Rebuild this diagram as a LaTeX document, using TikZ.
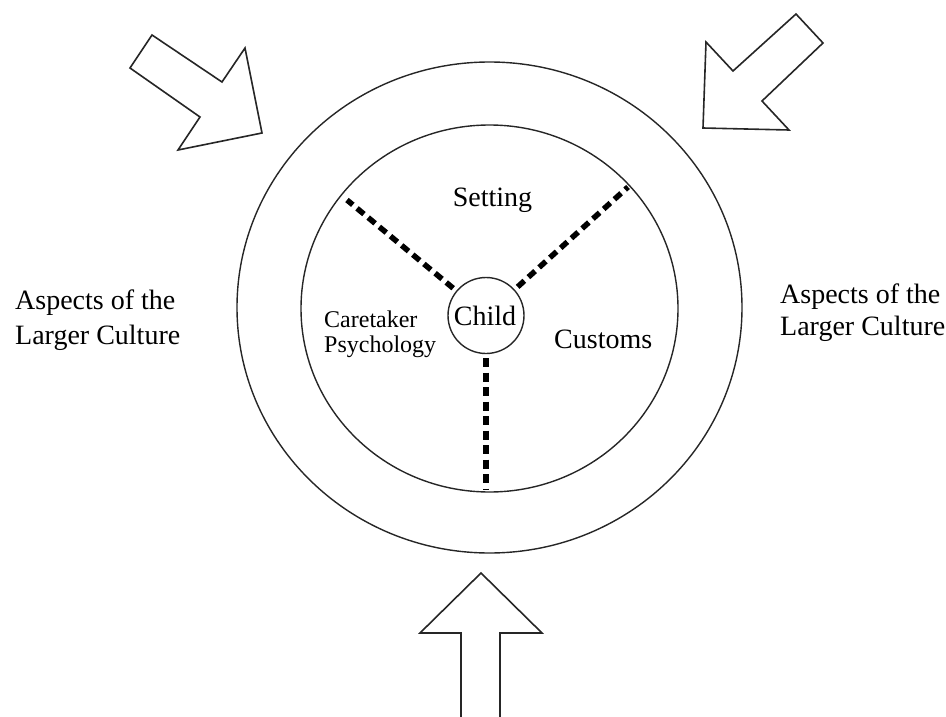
\documentclass[tikz,border=0pt]{standalone}
\usepackage{fontspec}
\usetikzlibrary{shapes.geometric}
\setmainfont{Liberation Serif}
\begin{document}
\begin{tikzpicture}[x=1pt,y=-1pt,
  ring/.style={draw=black!85,line width=1.4pt},
  bigarrow/.style={draw=black!85,line width=1.6pt,line join=miter,fill=white},
  spoke/.style={line width=5.5pt,dash pattern=on 9pt off 5.5pt,shorten <=4pt},
  bigtext/.style={font=\fontsize{28}{35}\selectfont,inner sep=0pt},
  midtext/.style={font=\fontsize{24}{25}\selectfont,inner sep=0pt}]
\useasboundingbox (0,0) rectangle (946,717);
% circles
\node[ring,ellipse,minimum width=505pt,minimum height=491pt,inner sep=0pt] (outer) at (489.5,307.5) {};
\node[ring,ellipse,minimum width=377pt,minimum height=367pt,inner sep=0pt] (inner) at (489.5,308.5) {};
\node[ring,circle,minimum size=76pt,inner sep=0pt] (child) at (486,315.5) {};
\node[bigtext,anchor=base] (childtxt) at (485,325) {Child};
% spokes
\coordinate (sl) at (347,200);
\coordinate (sr) at (628,187);
\coordinate (sb) at (486,490);
\draw[spoke] (child) -- (sl);
\draw[spoke] (child) -- (sr);
\draw[spoke] (child.south) -- (sb);
% labels
\node[bigtext,anchor=base] (setting) at (492.5,206) {Setting};
\node[bigtext,anchor=base west] (customs) at (554,348) {Customs};
\node[midtext,anchor=base west] (care1) at (324,327) {Caretaker};
\node[midtext,anchor=base west] (care2) at (324,352) {Psychology};
\node[bigtext,anchor=base west] (al1) at (15,309) {Aspects of the};
\node[bigtext,anchor=base west] (al2) at (15,344) {Larger Culture};
\node[bigtext,anchor=base west] (ar1) at (780,303) {Aspects of the};
\node[bigtext,anchor=base west] (ar2) at (780,335) {Larger Culture};
% arrows
\draw[bigarrow] (152,35) -- (222,82) -- (245,48) -- (262,133) -- (178,150) -- (200,117) -- (130,68) -- cycle;
\draw[bigarrow] (796,14) -- (823,43) -- (762,101) -- (789,130) -- (703,128) -- (706,42) -- (733,71) -- cycle;
\draw[bigarrow] (461,720) -- (461,633) -- (420,633) -- (481,573) -- (542,633) -- (500,633) -- (500,720);
\end{tikzpicture}
\end{document}
